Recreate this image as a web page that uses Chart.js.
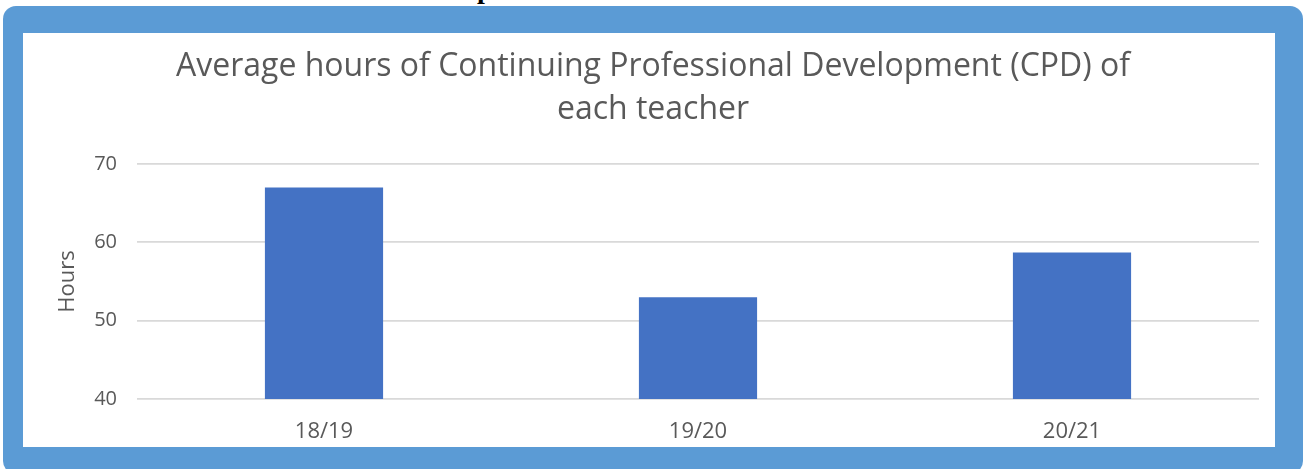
<!DOCTYPE html>
<html>
<head>
<meta charset="utf-8">
<script src="https://cdn.jsdelivr.net/npm/chart.js@4.4.1/dist/chart.umd.min.js"></script>
<style>
  html, body { margin: 0; padding: 0; background: #fff; overflow: hidden; }
  body { width: 1303px; height: 469px; position: relative; }
  /* cut-off heading above the framed chart */
  #heading { position: absolute; left: 477px; top: -25px; font: bold 28px "Liberation Serif", serif; line-height: 1; color: #000; }
  #frame { position: absolute; left: 3px; top: 6px; width: 1300px; height: 468px; background: #5b9bd5; border-radius: 13px; }
  #panel { position: absolute; left: 23px; top: 33px; width: 1252px; height: 414px; background: #fff; }
</style>
</head>
<body>
<div id="heading">p</div>
<div id="frame"></div>
<div id="panel"><canvas id="chart" width="1252" height="414"></canvas></div>
<script>
// Chart data
const anos = ['18/19', '19/20', '20/21'];
const horas = [67, 53, 58.7];
const yTicks = [40, 50, 60, 70];

const cinza = '#595959';

new Chart(document.getElementById('chart'), {
  type: 'bar',
  data: {
    labels: anos,
    datasets: [{
      label: 'Hours',
      data: horas,
      backgroundColor: '#4472c4',
      borderWidth: 0,
      categoryPercentage: 1,
      barPercentage: 0.316
    }]
  },
  options: {
    responsive: false,
    animation: false,
    layout: { padding: { left: 24, right: 16, top: 0, bottom: 0 } },
    plugins: {
      legend: { display: false },
      tooltip: { enabled: false },
      title: {
        display: true,
        text: ['Average hours of Continuing Professional Development (CPD) of', 'each teacher'],
        color: cinza,
        font: { family: 'Open Sans', size: 32, weight: 'normal', lineHeight: 1.36 },
        padding: { top: 12, bottom: 32 }
      }
    },
    scales: {
      x: {
        grid: { display: false },
        border: { display: false },
        ticks: { color: cinza, font: { family: 'Open Sans', size: 22 }, padding: 12 },
        afterFit(scale) { scale.height = 48; }
      },
      y: {
        min: yTicks[0],
        max: yTicks[yTicks.length - 1],
        afterBuildTicks(scale) {
          scale.ticks = yTicks.map(v => ({ value: v }));
        },
        afterFit(scale) { scale.width = 90; },
        grid: { color: '#d9d9d9', lineWidth: 1.8, drawTicks: false },
        border: { display: false },
        ticks: { color: cinza, font: { family: 'Open Sans', size: 20 }, padding: 20 },
        title: {
          display: true,
          text: 'Hours',
          color: cinza,
          font: { family: 'Open Sans', size: 22 },
          padding: { top: 8, bottom: 10 }
        }
      }
    }
  }
});
</script>
</body>
</html>
